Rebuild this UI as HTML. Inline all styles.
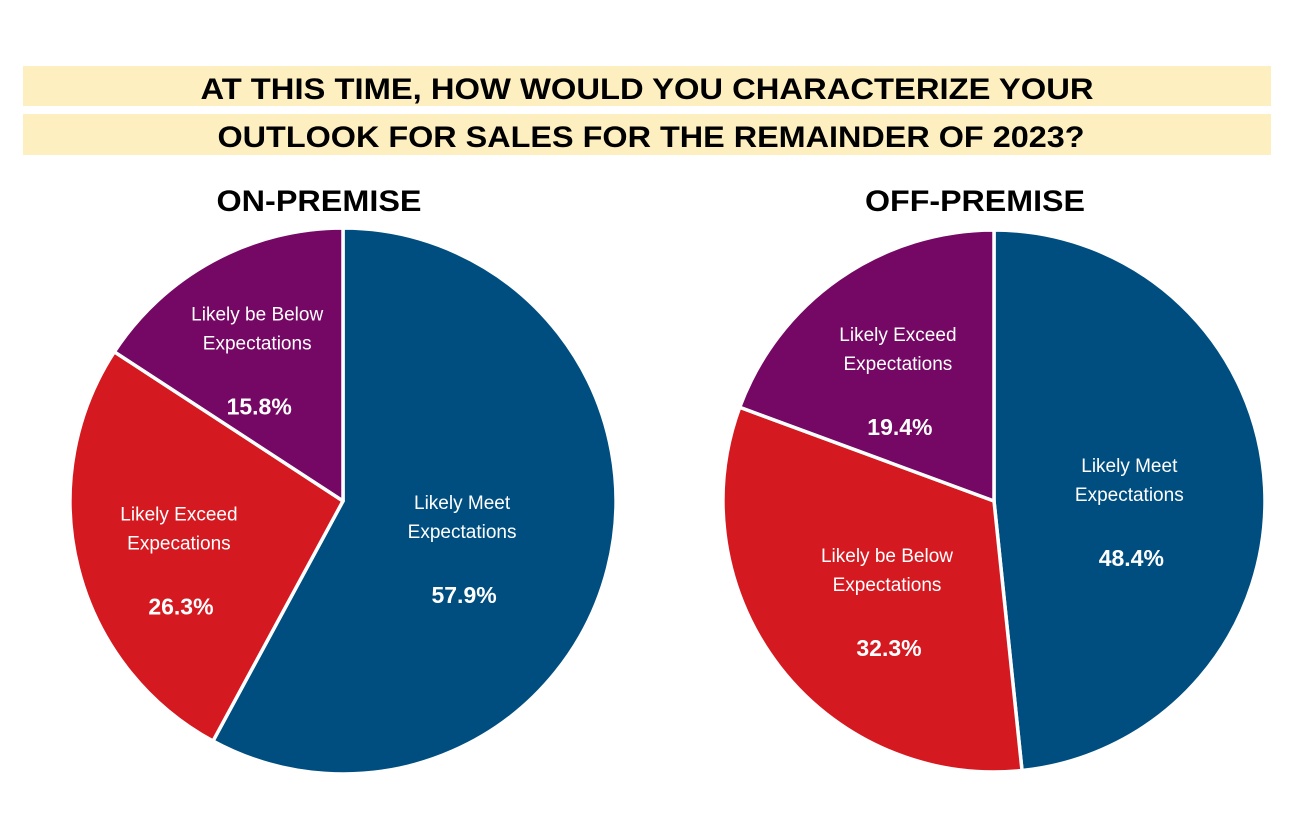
<!DOCTYPE html>
<html><head><meta charset="utf-8"><style>
html,body{margin:0;padding:0;background:#fff;}
svg{display:block;font-family:"Liberation Sans",Arial,sans-serif;}
</style></head><body>
<svg id="chart" width="1310" height="822" viewBox="0 0 1310 822">
<rect x="23" y="66" width="1248" height="40" fill="#fdefc0"/>
<rect x="23" y="114" width="1248" height="41" fill="#fdefc0"/>
<text x="647" y="99" text-anchor="middle" font-size="30" font-weight="bold" textLength="893" lengthAdjust="spacingAndGlyphs">AT THIS TIME, HOW WOULD YOU CHARACTERIZE YOUR</text>
<text x="651" y="147" text-anchor="middle" font-size="30" font-weight="bold" textLength="867" lengthAdjust="spacingAndGlyphs">OUTLOOK FOR SALES FOR THE REMAINDER OF 2023?</text>
<text x="319" y="211" text-anchor="middle" font-size="30" font-weight="bold" textLength="205" lengthAdjust="spacingAndGlyphs">ON-PREMISE</text>
<text x="975" y="211" text-anchor="middle" font-size="30" font-weight="bold" textLength="220" lengthAdjust="spacingAndGlyphs">OFF-PREMISE</text>
<g id="pies"></g>
</svg>
<script>
const onLabels = ["Likely Meet|Expectations", "Likely Exceed|Expecations", "Likely be Below|Expectations"];
const onValues = [57.9, 26.3, 15.8];
const offLabels = ["Likely Meet|Expectations", "Likely be Below|Expectations", "Likely Exceed|Expectations"];
const offValues = [48.4, 32.3, 19.4];
const colors = ["#004e80", "#d41920", "#750864"];

const NS = "http://www.w3.org/2000/svg";
const root = document.getElementById("pies");
function mk(tag, attrs, parent){const e=document.createElementNS(NS,tag);for(const k in attrs)e.setAttribute(k,attrs[k]);parent.appendChild(e);return e;}

function drawPie(cx, cy, r, labels, values, labelR, name){
  const g = mk("g", {}, root);
  
  
  const total = values.reduce((a,b)=>a+b,0);
  let a0 = 0;
  values.forEach((v,i)=>{
    const a1 = a0 + v/total*2*Math.PI;
    const x0=cx+r*Math.sin(a0), y0=cy-r*Math.cos(a0);
    const x1=cx+r*Math.sin(a1), y1=cy-r*Math.cos(a1);
    const large = (a1-a0)>Math.PI?1:0;
    const p = mk("path",{d:`M${cx},${cy} L${x0},${y0} A${r},${r} 0 ${large} 1 ${x1},${y1} Z`,fill:colors[i],stroke:"#fff","stroke-width":3.5,"stroke-linejoin":"round"},g);
    
    
    const am = (a0+a1)/2;
    const lr = r*labelR[i];
    const lx = cx+lr*Math.sin(am), ly = cy-lr*Math.cos(am);
    const parts = labels[i].split("|");
    const t = mk("text",{"text-anchor":"middle",fill:"#fff","font-size":19},g);
    
    
    parts.forEach((s,j)=>{const ts=mk("tspan",{x:lx,y:ly-22+j*29},t);ts.textContent=s;});
    const pt = mk("text",{x:lx+2,y:ly+72,"text-anchor":"middle",fill:"#fff","font-size":23,"font-weight":"bold"},g);
    
    
    pt.textContent = v.toFixed(1)+"%";
    a0 = a1;
  });
}
drawPie(343, 501, 273, onLabels, onValues, [0.45, 0.62, 0.66], "on-premise-pie");
drawPie(994, 501, 271, offLabels, offValues, [0.5, 0.5, 0.62], "off-premise-pie");
</script>
</body></html>
